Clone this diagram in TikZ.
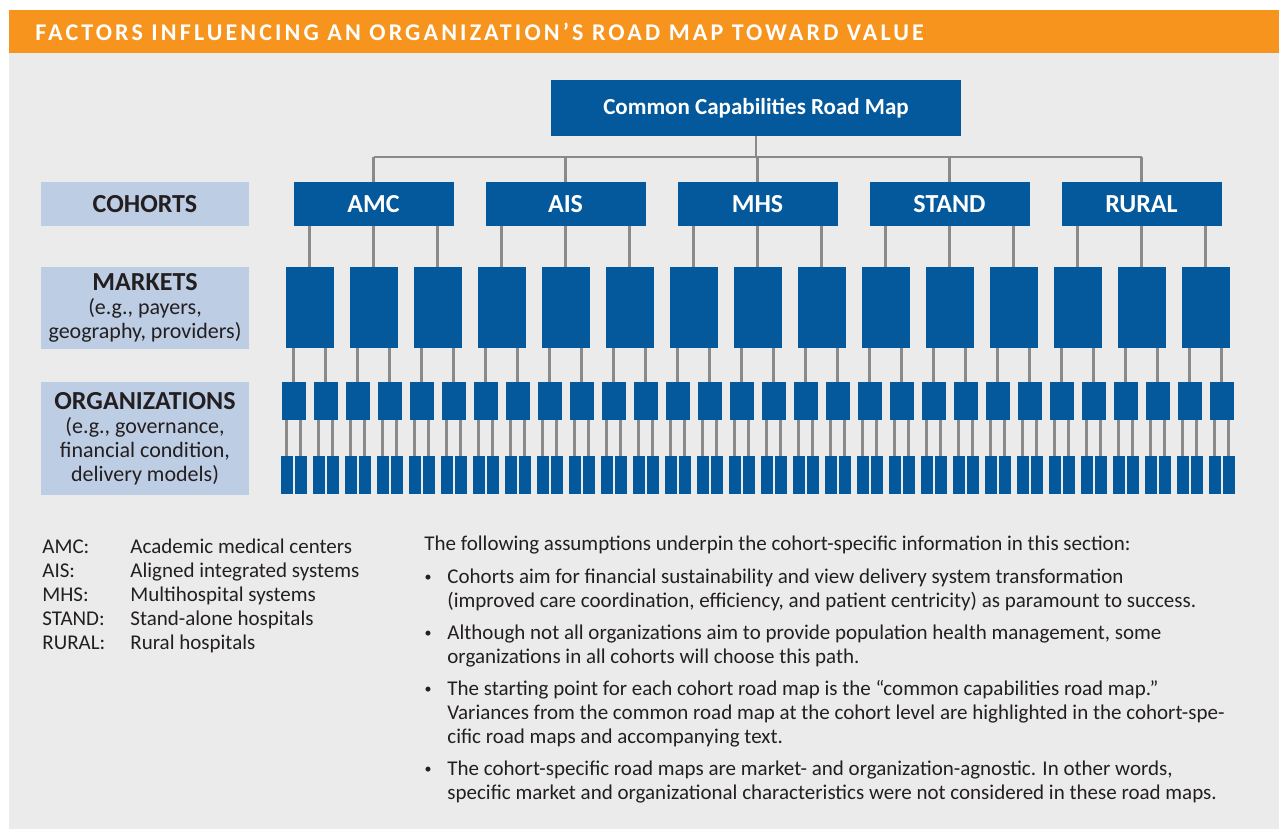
\documentclass[tikz,border=0pt]{standalone}
\usepackage{fontspec}
\setmainfont{Carlito}
\newfontfamily\titlefont[LetterSpace=13]{Carlito}
\definecolor{rmblue}{HTML}{03599C}
\definecolor{rmorange}{HTML}{F7941D}
\definecolor{panelgray}{HTML}{EBEBEB}
\definecolor{labelblue}{HTML}{BDCDE4}
\definecolor{inkdark}{HTML}{231F20}
\definecolor{wiregray}{HTML}{8A8A8A}

\tikzset{
  bluebox/.style={fill=rmblue, inner sep=0, text=white, font=\bfseries},
  cohortbox/.style={bluebox, minimum width=80pt, minimum height=22pt, font=\fontsize{13}{15}\selectfont\bfseries},
  marketbox/.style={bluebox, minimum width=24pt, minimum height=40.5pt},
  orgbox/.style={bluebox, minimum width=12pt, minimum height=19pt},
  unitbox/.style={bluebox, minimum width=6pt, minimum height=19pt},
  tierbox/.style={fill=labelblue, inner sep=0, minimum width=104pt, text=inkdark, align=center, font=\fontsize{11}{12}\selectfont},
  wire/.style={draw=wiregray, line width=1.1pt},
  bodytext/.style={anchor=base west, inner sep=0, text=inkdark, font=\fontsize{10.5}{12}\selectfont},
  dotmark/.style={anchor=base, inner sep=0, text=inkdark, font=\fontsize{7}{8}\selectfont},
}

\begin{document}
\begin{tikzpicture}[x=0.5pt, y=-0.5pt]

% Frame: white margin, gray panel, orange title bar
\useasboundingbox (0,0) rectangle (1279,829);
\fill[white] (0,0) rectangle (1279,829);
\fill[panelgray] (9,53) rectangle (1279,829);
\fill[rmorange] (9,10) rectangle (1279,53);
\node[anchor=base west, inner sep=0, text=white, font=\titlefont\bfseries\fontsize{12}{14}\selectfont] (title) at (35,41)
  {FACTORS INFLUENCING AN ORGANIZATION’S ROAD MAP TOWARD VALUE};

% Common road map at the top
\node[bluebox, minimum width=205pt, minimum height=28pt, font=\fontsize{11.5}{13}\selectfont\bfseries] (ccr) at (756,108) {Common Capabilities Road Map};
\coordinate (bus) at (756,157);
\draw[wire] (ccr.south) -- (bus);

% Cohorts, each with 3 markets, 2 organizations per market, 2 units per organization
\foreach \name [count=\c from 0] in {AMC,AIS,MHS,STAND,RURAL} {
  \node[cohortbox] (coh\c) at ({373.5+192*\c},204) {\name};
  \draw[wire] (coh\c.north) -- (coh\c.north |- bus);
  \foreach \m in {0,1,2} {
    \node[marketbox] (mkt\c\m) at ({373.5+192*\c+64*(\m-1)},307.5) {};
    \draw[wire] (mkt\c\m.north) -- (mkt\c\m.north |- coh\c.south);
    \foreach \o in {0,1} {
      \node[orgbox] (org\c\m\o) at ({373.5+192*\c+64*(\m-1)+32*(\o-0.5)},401) {};
      \draw[wire] (org\c\m\o.north) -- (org\c\m\o.north |- mkt\c\m.south);
      \foreach \u in {0,1} {
        \node[unitbox] (unit\c\m\o\u) at ({373.5+192*\c+64*(\m-1)+32*(\o-0.5)+14*(\u-0.5)},475) {};
        \draw[wire] (unit\c\m\o\u.north) -- (unit\c\m\o\u.north |- org\c\m\o.south);
      }
    }
  }
}
\draw[wire] (coh0.north |- bus) -- (coh4.north |- bus);

% Tier labels on the left
\node[tierbox, minimum height=22pt, font=\fontsize{13}{15}\selectfont\bfseries] (cohorts) at (145,204) {COHORTS};
\node[tierbox, minimum height=41pt] (markets) at (145,308)
  {{\fontsize{13}{12}\selectfont\bfseries MARKETS}\\(e.g., payers,\\geography, providers)};
\node[tierbox, minimum height=56.5pt] (orgs) at (145,438.5)
  {{\fontsize{13}{12}\selectfont\bfseries ORGANIZATIONS}\\(e.g., governance,\\financial condition,\\delivery models)};

% Legend
\node[bodytext] (legend) at (42,553) {\begin{tabular}[t]{@{}p{44pt}@{}l@{}}
  AMC: & Academic medical centers\\
  AIS: & Aligned integrated systems\\
  MHS: & Multihospital systems\\
  STAND: & Stand-alone hospitals\\
  RURAL: & Rural hospitals
\end{tabular}};

% Assumptions
\node[bodytext] (intro) at (424,550) {The following assumptions underpin the cohort-specific information in this section:};
\node[dotmark] (dot1) at (428,581) {•};
\node[bodytext] (pt1) at (447,583) {\parbox[t]{400pt}{\raggedright
  Cohorts aim for financial sustainability and view delivery system transformation\\
  (improved care coordination, efficiency, and patient centricity) as paramount to success.}};
\node[dotmark] (dot2) at (428,637) {•};
\node[bodytext] (pt2) at (447,639) {\parbox[t]{400pt}{\raggedright
  Although not all organizations aim to provide population health management, some\\
  organizations in all cohorts will choose this path.}};
\node[dotmark] (dot3) at (428,693) {•};
\node[bodytext] (pt3) at (447,695) {\parbox[t]{400pt}{\raggedright
  The starting point for each cohort road map is the “common capabilities road map.”\\
  Variances from the common road map at the cohort level are highlighted in the cohort-spe-\\
  cific road maps and accompanying text.}};
\node[dotmark] (dot4) at (428,773) {•};
\node[bodytext] (pt4) at (447,775) {\parbox[t]{400pt}{\raggedright
  The cohort-specific road maps are market- and organization-agnostic. In other words,\\
  specific market and organizational characteristics were not considered in these road maps.}};

\end{tikzpicture}
\end{document}
